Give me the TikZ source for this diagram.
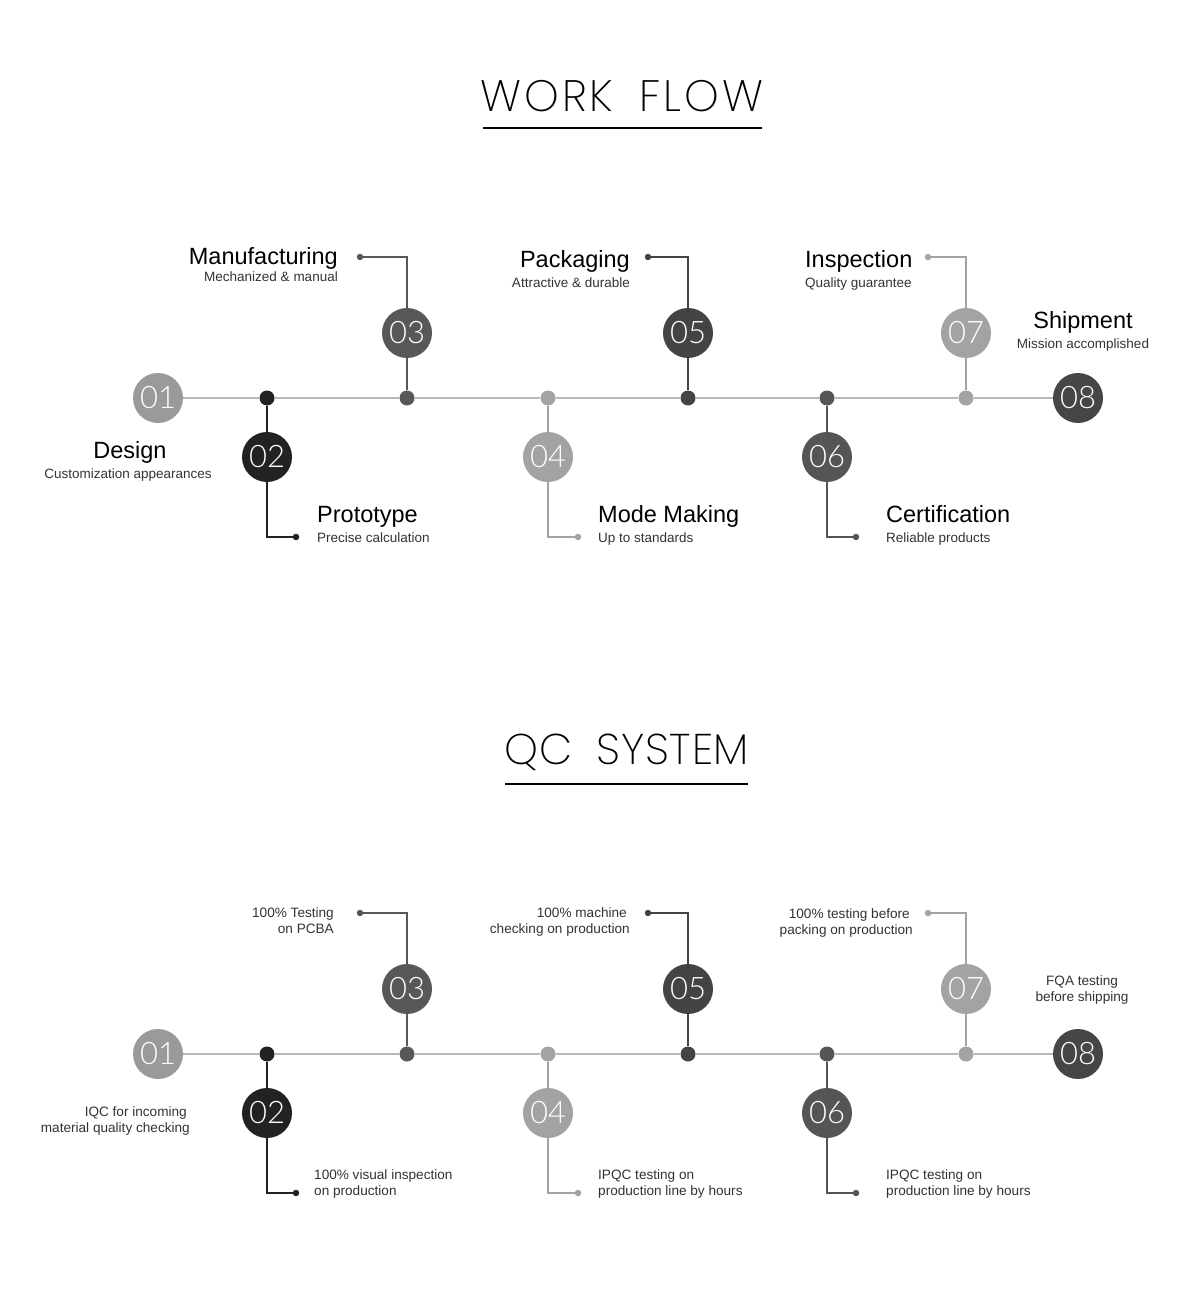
\documentclass[tikz,border=0pt]{standalone}
\usepackage{fontspec}
\setmainfont{Liberation Sans}
\IfFontExistsTF{Poppins ExtraLight}{\newfontfamily\titlefont{Poppins ExtraLight}}{%
  \IfFontExistsTF{Poppins Light}{\newfontfamily\titlefont{Poppins Light}}{\newfontfamily\titlefont{Poppins}}}
\IfFontExistsTF{Lato Light}{\newfontfamily\numfont{Lato Light}}{\newfontfamily\numfont{Lato}}
\definecolor{c01}{HTML}{9A9A9A}
\definecolor{c02}{HTML}{222222}
\definecolor{c03}{HTML}{585858}
\definecolor{c04}{HTML}{A3A3A3}
\definecolor{c05}{HTML}{444444}
\definecolor{c06}{HTML}{555555}
\definecolor{c07}{HTML}{A3A3A3}
\definecolor{c08}{HTML}{464646}
\definecolor{lineg}{HTML}{B8B8B8}
\definecolor{subc}{HTML}{333333}
\tikzset{
  bigc/.style={circle, minimum size=50pt, inner sep=0pt, text=white,
    font=\numfont\fontsize{31}{31}\selectfont},
  jdot/.style={circle, minimum size=15pt, inner sep=0pt},
  edot/.style={circle, minimum size=6.5pt, inner sep=0pt},
  mainline/.style={line width=2pt, draw=lineg},
  conn/.style={line width=1.6pt},
  head/.style={font=\fontsize{23.5}{26}\selectfont, inner sep=0pt, text=black},
  sub/.style={font=\fontsize{13.5}{16}\selectfont, inner sep=0pt, text=subc},
  qctext/.style={font=\fontsize{13.6}{16}\selectfont, inner sep=0pt, text=subc},
  ttl/.style={font=\titlefont\fontsize{44}{46}\selectfont, inner sep=0pt, text=black},
}
\begin{document}
\begin{tikzpicture}[x=1pt,y=-1pt]
\useasboundingbox[fill=white] (0,0) rectangle (1200,1305);

% titles
\node[ttl, font=\titlefont\fontsize{44}{46}\selectfont\addfontfeatures{LetterSpace=7}]
  (t1) at (622,96) {WORK\hspace{0.6em}FLOW};
\draw[line width=1.5pt] (483,128) -- (762,128);
\node[ttl, font=\titlefont\fontsize{43}{46}\selectfont\addfontfeatures{LetterSpace=2}]
  (t2) at (627,752) {QC\hspace{0.55em}SYSTEM};
\draw[line width=1.5pt] (505,784) -- (748,784);

\foreach \sec/\yy in {A/398,B/1054}{
  \begin{scope}[yshift=-\yy pt]
    \node[bigc, fill=c01] (\sec c1) at (158,0) {01};
    \node[bigc, fill=c08] (\sec c8) at (1078,0) {08};
    \foreach \i/\x/\col/\cy/\by/\ex in {2/267/c02/59/139/296, 3/407/c03/-65/-141/360,
        4/548/c04/59/139/578, 5/688/c05/-65/-141/648, 6/827/c06/59/139/856,
        7/966/c07/-65/-141/928}{
      \node[jdot, fill=\col] (\sec j\i) at (\x,0) {};
      \node[bigc, fill=\col] (\sec c\i) at (\x,\cy) {0\i};
      \coordinate (\sec b\i) at (\x,\by);
      \node[edot, fill=\col] (\sec e\i) at (\ex,\by) {};
      \draw[conn, draw=\col] (\sec j\i) -- (\sec c\i);
      \draw[conn, draw=\col] (\sec c\i) -- (\sec b\i) -- (\sec e\i);
    }
    \draw[mainline] (\sec c1) -- (\sec j2) -- (\sec j3) -- (\sec j4) -- (\sec j5)
      -- (\sec j6) -- (\sec j7) -- (\sec c8);
  \end{scope}
}

% WORK FLOW labels
\node[head, anchor=base] (h1) at (130,458) {Design};
\node[sub, anchor=base] (s1) at (128,478) {Customization appearances};
\node[head, anchor=base west] (h2) at (317,522) {Prototype};
\node[sub, anchor=base west] (s2) at (317,542) {Precise calculation};
\node[head, anchor=base east] (h3) at (338,265) {Manufacturing};
\node[sub, anchor=base east] (s3) at (338,282) {Mechanized \& manual};
\node[head, anchor=base west] (h4) at (598,522) {Mode Making};
\node[sub, anchor=base west] (s4) at (598,542) {Up to standards};
\node[head, anchor=base east] (h5) at (630,268) {Packaging};
\node[sub, anchor=base east] (s5) at (630,288) {Attractive \& durable};
\node[head, anchor=base west] (h6) at (886,522) {Certification};
\node[sub, anchor=base west] (s6) at (886,542) {Reliable products};
\node[head, anchor=base west] (h7) at (805,268) {Inspection};
\node[sub, anchor=base west] (s7) at (805,288) {Quality guarantee};
\node[head, anchor=base] (h8) at (1083,328) {Shipment};
\node[sub, anchor=base] (s8) at (1083,348) {Mission accomplished};

% QC labels
\node[qctext, anchor=base east] (q1a) at (187,1116) {IQC for incoming};
\node[qctext, anchor=base east] (q1b) at (190,1132) {material quality checking};
\node[qctext, anchor=base west] (q2a) at (314,1179) {100\% visual inspection};
\node[qctext, anchor=base west] (q2b) at (314,1195) {on production};
\node[qctext, anchor=base east] (q3a) at (334,917) {100\% Testing};
\node[qctext, anchor=base east] (q3b) at (334,933) {on PCBA};
\node[qctext, anchor=base west] (q4a) at (598,1179) {IPQC testing on};
\node[qctext, anchor=base west] (q4b) at (598,1195) {production line by hours};
\node[qctext, anchor=base east] (q5a) at (627,917) {100\% machine};
\node[qctext, anchor=base east] (q5b) at (630,933) {checking on production};
\node[qctext, anchor=base east] (q7a) at (910,918) {100\% testing before};
\node[qctext, anchor=base east] (q7b) at (913,934) {packing on production};
\node[qctext, anchor=base west] (q6a) at (886,1179) {IPQC testing on};
\node[qctext, anchor=base west] (q6b) at (886,1195) {production line by hours};
\node[qctext, anchor=base] (q8a) at (1082,985) {FQA testing};
\node[qctext, anchor=base] (q8b) at (1082,1001) {before shipping};
\end{tikzpicture}
\end{document}
